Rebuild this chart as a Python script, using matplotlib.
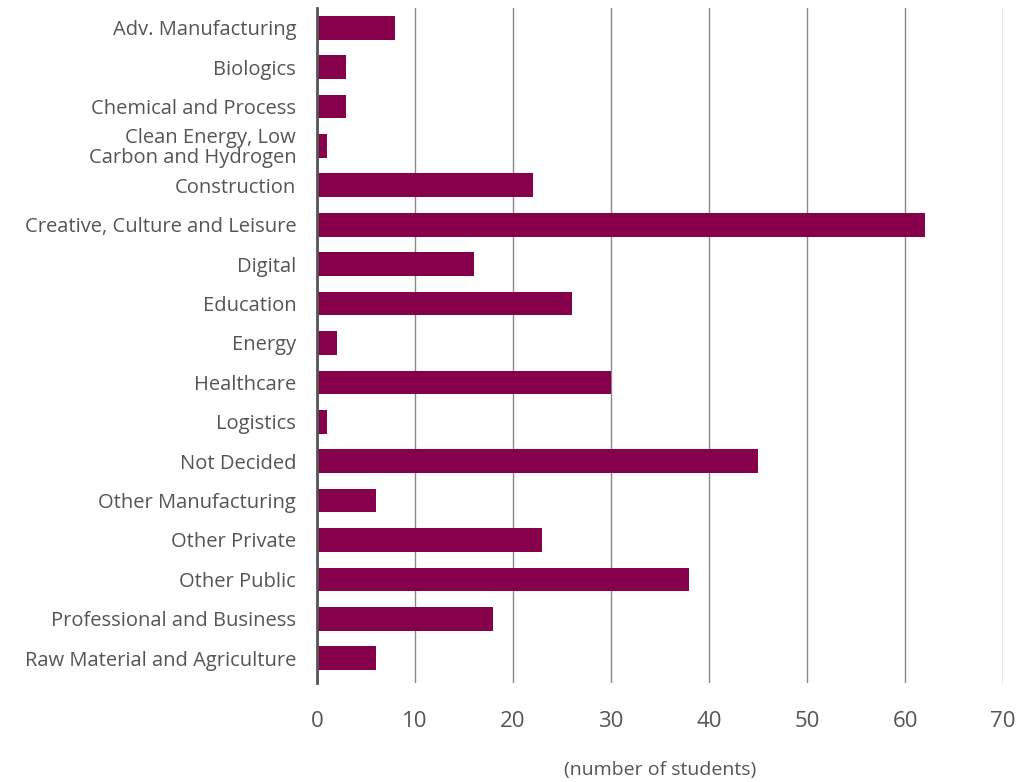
import numpy as np
import matplotlib.pyplot as plt

# sectors and number of students
setores = ['Adv. Manufacturing', 'Biologics', 'Chemical and Process',
           'Clean Energy, Low\nCarbon and Hydrogen', 'Construction',
           'Creative, Culture and Leisure', 'Digital', 'Education', 'Energy',
           'Healthcare', 'Logistics', 'Not Decided', 'Other Manufacturing',
           'Other Private', 'Other Public', 'Professional and Business',
           'Raw Material and Agriculture']
alunos = [8, 3, 3, 1, 22, 62, 16, 26, 2, 30, 1, 45, 6, 23, 38, 18, 6]

plt.rcParams['font.family'] = ['Open Sans', 'DejaVu Sans']
cor_texto = '#555555'

fig = plt.figure(figsize=(10.21, 7.82), dpi=100)
ax = fig.add_axes([0.3105, 0.1266, 0.6719, 0.8632])

y = np.arange(len(setores))
ax.barh(y, alunos, height=0.6, color='#86004B', zorder=3)

ax.set_yticks(y)
ax.set_yticklabels(setores, fontsize=14.5, color=cor_texto, linespacing=1.0)
ax.set_ylim(16.63, -0.5)
ax.set_xlim(0, 70)
ax.set_xticks(range(0, 71, 10))
ax.tick_params(axis='x', length=0, pad=20, labelsize=16, labelcolor=cor_texto)
ax.tick_params(axis='y', length=0, pad=15)

ax.grid(axis='x', color='#888888', linewidth=1, zorder=0)
for lado in ['top', 'right', 'bottom']:
    ax.spines[lado].set_visible(False)
ax.spines['left'].set_color('#555555')
ax.spines['left'].set_linewidth(2)
ax.spines['left'].set_zorder(4)

ax.set_xlabel('(number of students)', fontsize=14, color=cor_texto, labelpad=21)

plt.savefig('out.png', dpi=100)
